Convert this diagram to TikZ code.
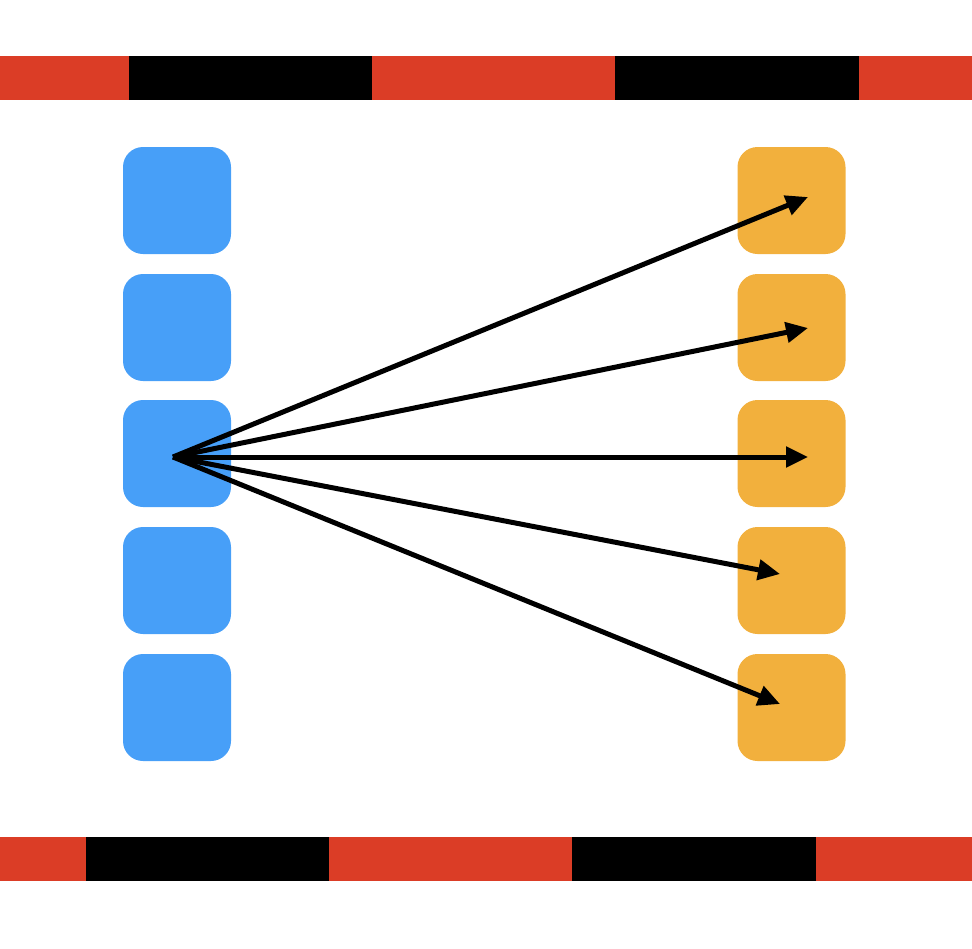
\documentclass[tikz,border=0pt]{standalone}
\usetikzlibrary{arrows.meta}
\definecolor{bblue}{HTML}{479FF8}
\definecolor{borange}{HTML}{F2B03D}
\definecolor{bred}{HTML}{DB3D26}
\begin{document}
\begin{tikzpicture}[x=1pt,y=-1pt,
  cell/.style={minimum width=108pt,minimum height=107pt,rounded corners=20pt,inner sep=0pt,draw=none},
  bluecell/.style={cell,fill=bblue},
  orangecell/.style={cell,fill=borange},
  conn/.style={line width=5pt,-{Triangle[length=22pt,width=20pt]}}]
\useasboundingbox (0,0) rectangle (972,948);
% top bar
\fill[bred] (0,56) rectangle (129,100);
\fill[black] (129,56) rectangle (372,100);
\fill[bred] (372,56) rectangle (615,100);
\fill[black] (615,56) rectangle (859,100);
\fill[bred] (859,56) rectangle (972,100);
% bottom bar
\fill[bred] (0,837) rectangle (86,881);
\fill[black] (86,837) rectangle (329,881);
\fill[bred] (329,837) rectangle (572,881);
\fill[black] (572,837) rectangle (816,881);
\fill[bred] (816,837) rectangle (972,881);
% boxes
\foreach \i/\y in {1/200.5,2/327.5,3/453.5,4/580.5,5/707.5}{
  \node[bluecell] (b\i) at (177,\y) {};
  \node[orangecell] (o\i) at (791.5,\y) {};
}
\coordinate (src) at (173,457);
\coordinate (t1) at (808,197);
\coordinate (t2) at (808,328);
\coordinate (t3) at (808,457);
\coordinate (t4) at (780,574);
\coordinate (t5) at (780,704);
\foreach \i in {1,...,5}{\draw[conn] (src) -- (t\i);}
\end{tikzpicture}
\end{document}
